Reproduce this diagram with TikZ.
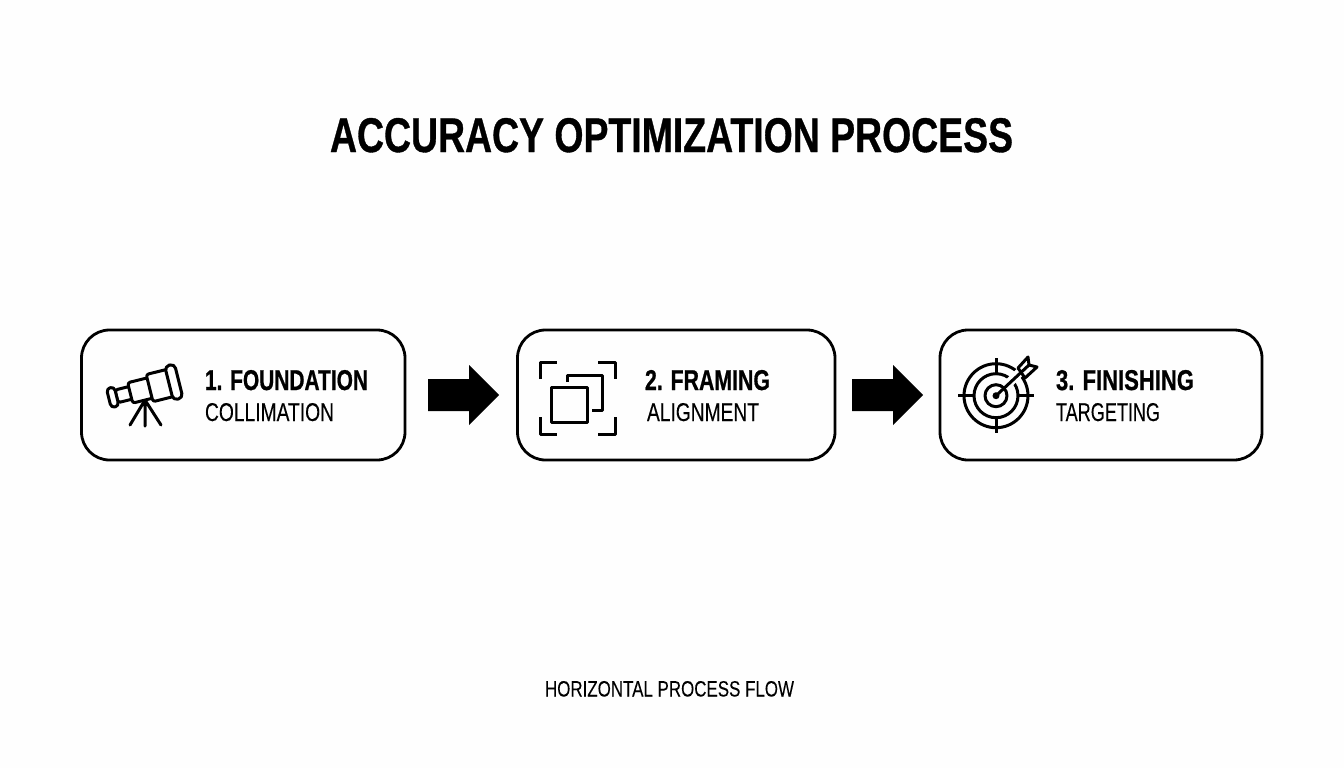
\documentclass[tikz,border=0pt]{standalone}
\usepackage{fontspec}
\usepackage{graphicx}
\setmainfont{Liberation Sans}
\newfontfamily\heavyfont{Liberation Sans Bold}[FakeBold=0.8]
\newfontfamily\medfont{Liberation Sans}[FakeBold=0.15]
\usetikzlibrary{calc}
\definecolor{ink}{HTML}{000000}
\definecolor{paper}{HTML}{FEFEFE}
\newcommand{\fitted}[3]{\resizebox{#1pt}{#2pt}{#3}}
\newcommand{\blockarrow}[3]{% from node, start offset, head offset
  \fill[ink] ($(#1.east)+(#2,-16)$) -- ($(#1.east)+(#3,-16)$) -- ($(#1.east)+(#3,-30)$)
    -- ($(#1.east)+(#3+30,0)$) -- ($(#1.east)+(#3,30)$) -- ($(#1.east)+(#3,16)$) -- ($(#1.east)+(#2,16)$) -- cycle;}
\tikzset{
  card/.style={draw=ink,line width=2.8pt,fill=paper,rounded corners=28pt,minimum height=130pt,inner sep=0pt,outer sep=0pt},
  lab/.style={anchor=north west,inner sep=0pt,outer sep=0pt,text=ink},
  icon/.style={draw=ink,line width=3pt,line join=round},
  iconw/.style={draw=ink,fill=paper,line width=3pt,line join=round,rounded corners=2.5pt},
}
\begin{document}
\begin{tikzpicture}[x=1pt,y=-1pt]
\useasboundingbox (0,0) rectangle (1344,768);
\fill[paper] (0,0) rectangle (1344,768);
\node[lab] (title) at (330,118) {\fitted{683}{34}{\heavyfont ACCURACY OPTIMIZATION PROCESS}};
\node[card,minimum width=323.5pt] (b1) at (243.25,395) {};
\node[card,minimum width=317.5pt] (b2) at (676.25,395) {};
\node[card,minimum width=322pt] (b3) at (1101,395) {};
\blockarrow{b1}{23}{64}
\blockarrow{b2}{17}{58}
\node[lab] (t1) at (205,370) {\fitted{163}{20}{\heavyfont 1. FOUNDATION}};
\node[lab] (s1) at (205,403) {\fitted{129}{18}{\medfont COLLIMATION}};
\node[lab] (t2) at (645,370) {\fitted{125}{20}{\heavyfont 2. FRAMING}};
\node[lab] (s2) at (647,403) {\fitted{112}{18}{\medfont ALIGNMENT}};
\node[lab] (t3) at (1056,370) {\fitted{138}{20}{\heavyfont 3. FINISHING}};
\node[lab] (s3) at (1056,403) {\fitted{104}{18}{\medfont TARGETING}};
\node[lab] (foot) at (545,681) {\fitted{249}{15.5}{\medfont HORIZONTAL PROCESS FLOW}};
% telescope
\draw[icon,line cap=round] (145,400) -- (130,425) (145,400) -- (145,426) (145,400) -- (161,425);
\begin{scope}[shift={(112.7,397.3)},rotate=14]
  \draw[iconw] (4,-6.5) rectangle (19,6.5);
  \draw[iconw] (18,-10.5) rectangle (39,10.5);
  \draw[iconw] (38,-14) rectangle (60,14);
  \draw[iconw,rounded corners=4pt] (-4,-10) rectangle (4,10);
  \draw[iconw,rounded corners=4.5pt] (58,-17.5) rectangle (68,17.5);
\end{scope}
% framing
\draw[icon] (540,379) -- (540,362) -- (557,362);
\draw[icon] (598,362) -- (615,362) -- (615,379);
\draw[icon] (540,417) -- (540,434) -- (557,434);
\draw[icon] (598,434) -- (615,434) -- (615,417);
\draw[icon] (567,382) -- (567,375) -- (602,375) -- (602,410) -- (592,410);
\draw[icon] (551,387) rectangle (587,422);
% target
\draw[icon] (996,395.7) circle (32) (996,395.7) circle (22) (996,395.7) circle (11);
\draw[icon] (958,395.7) -- (974,395.7) (1018,395.7) -- (1034,395.7) (996,358) -- (996,374) (996,417) -- (996,433);
\draw[paper,line width=9pt] (1008,384) -- (1026,366);
\draw[icon,fill=paper] (1018,368) -- (1028,357) -- (1029,365) -- (1037,367) -- (1025,378) -- cycle;
\draw[icon] (996,395.7) -- (1029,365);
\fill[ink] (996,395.7) circle (3.5);
\end{tikzpicture}
\end{document}
